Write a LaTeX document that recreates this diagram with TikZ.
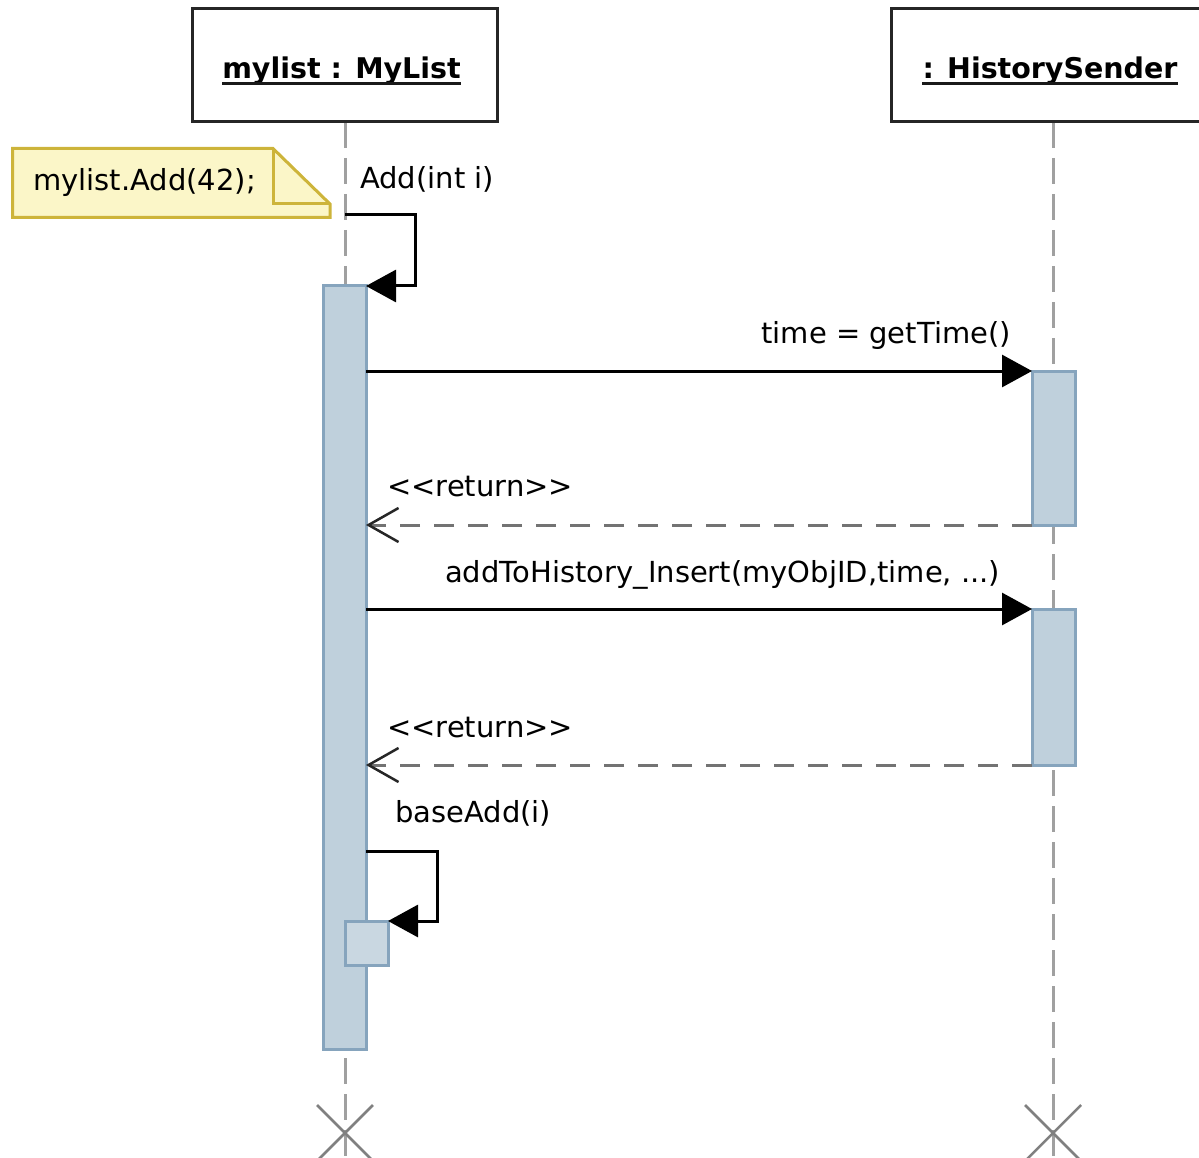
\documentclass[tikz,border=0pt]{standalone}
\usepackage{fontspec}
\setmainfont{DejaVu Sans}
\usetikzlibrary{arrows.meta}
\definecolor{actf}{HTML}{BFD0DC}
\definecolor{actb}{HTML}{86A4BD}
\definecolor{notef}{HTML}{FBF6C8}
\definecolor{noteb}{HTML}{CDB43A}
\definecolor{lifec}{HTML}{A0A0A0}
\begin{document}
\begin{tikzpicture}[x=1pt,y=-1pt,
  lbl/.style={inner sep=0pt, anchor=base west, font=\fontsize{29}{34}\selectfont},
  hdr/.style={draw=black!85, line width=3pt, fill=white, minimum width=305pt, minimum height=113pt, inner sep=0pt, outer sep=0pt},
  hdrtext/.style={inner sep=0pt, anchor=base, font=\fontsize{28.5}{34}\selectfont\bfseries},
  uline/.style={draw=black!90, line width=3pt},
  life/.style={draw=lifec, line width=3pt, dash pattern=on 26pt off 10pt},
  act/.style={draw=actb, fill=actf, line width=3pt, inner sep=0pt, outer sep=0pt},
  msg/.style={draw=black, line width=3pt, -{Triangle[length=30pt,width=32pt]}},
  ret/.style={draw=black!55, line width=3pt, dash pattern=on 20pt off 14pt, -{Straight Barb[length=30pt,width=34pt,line width=2.5pt,color=black!85]}},
  xmark/.style={draw=black!50, line width=2.5pt},
  notebox/.style={draw=noteb, fill=notef, line width=3pt, line join=miter}]
\useasboundingbox (0,0) rectangle (1199,1158);

% lifelines
\coordinate (l1top) at (345,122);
\coordinate (l1end) at (345,1160);
\coordinate (l2top) at (1053,122);
\coordinate (l2end) at (1053,1160);
\draw[life] (l1top) -- (l1end);
\draw[life] (l2top) -- (l2end);

% headers
\node[hdr] (ml) at (344.5,65.5) {};
\node[hdrtext] (mlt) at (341.5,79) {mylist : MyList};
\draw[uline] ([yshift=-5pt]mlt.base west) -- ([yshift=-5pt]mlt.base east);
\node[hdr, minimum width=324pt] (hs) at (1053,65.5) {};
\node[hdrtext] (hst) at (1050,79) {: HistorySender};
\draw[uline] ([yshift=-5pt]hst.base west) -- ([yshift=-5pt]hst.base east);

% note
\draw[notebox] (12.5,148.5) -- (273,148.5) -- (330,204) -- (330,217.5) -- (12.5,217.5) -- cycle;
\draw[notebox, fill=none] (273,148.5) -- (273,204) -- (330,204);
\node[lbl] (nt) at (33,191) {mylist.Add(42);};

% activations
\node[act, minimum width=43pt, minimum height=763pt] (a1) at (344.5,667.5) {};
\node[act, minimum width=43pt, minimum height=154pt] (b1) at (1053.5,448) {};
\node[act, minimum width=43pt, minimum height=156pt] (b2) at (1053.5,687) {};
\node[act, fill=actf!85!white, minimum width=43pt, minimum height=44pt] (a2) at (366.5,943) {};

% X marks
\draw[xmark] (317,1105) -- (373,1161) (373,1105) -- (317,1161);
\draw[xmark] (1025,1105) -- (1081,1161) (1081,1105) -- (1025,1161);

% messages
\coordinate (s1a) at (345,215);
\draw[msg] (s1a) -- (415,215) -- (415,286) -- (a1.north east);
\node[lbl] (m1) at (360,189) {Add(int i)};

\draw[msg] (a1.east |- b1.north west) -- (b1.north west);
\node[lbl, anchor=base east] (m2) at (1011,343) {time = getTime()};

\draw[ret] (b1.south west) -- (a1.east |- b1.south west);
\node[lbl] (m3) at (387,496) {{<}{<}return{>}{>}};

\draw[msg] (a1.east |- b2.north west) -- (b2.north west);
\node[lbl] (m4) at (445,582) {addToHistory\_Insert(myObjID,time, ...)};

\draw[ret] (b2.south west) -- (a1.east |- b2.south west);
\node[lbl] (m5) at (387,737) {{<}{<}return{>}{>}};

\coordinate (s2a) at (366,851);
\draw[msg] (s2a) -- (437,851) -- (437,921) -- (a2.north east);
\node[lbl] (m6) at (395,822) {baseAdd(i)};
\end{tikzpicture}
\end{document}
